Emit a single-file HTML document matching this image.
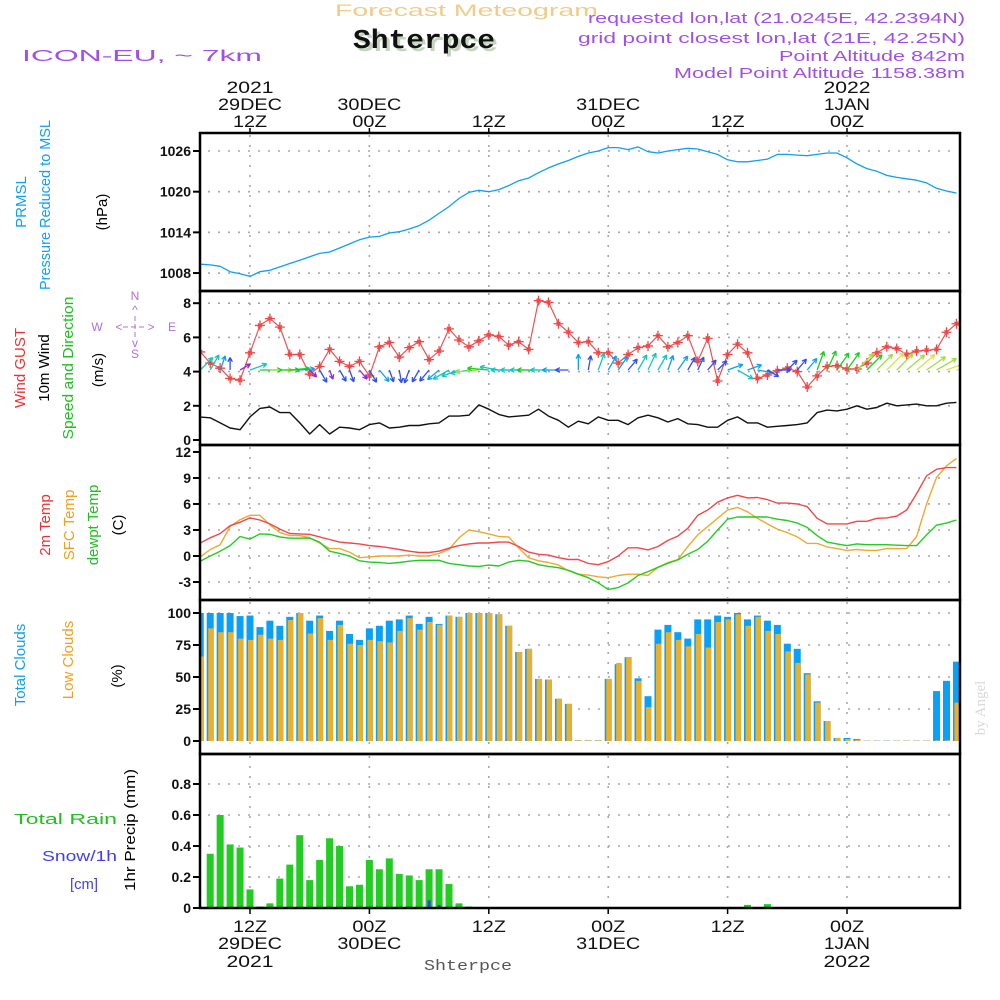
<!DOCTYPE html>
<html><head><meta charset="utf-8"><style>
html,body{margin:0;padding:0;background:#fff;}
svg{display:block;}
text{font-family:"Liberation Sans",sans-serif;}
</style></head><body>
<svg id="chart" xmlns="http://www.w3.org/2000/svg" width="1000" height="1000" viewBox="0 0 1000 1000">
<rect x="0" y="0" width="1000" height="1000" fill="#fff"/>
<g>
<text x="335" y="16" font-size="17" fill="#f0cc88" textLength="263" lengthAdjust="spacingAndGlyphs">Forecast Meteogram</text>
<text x="356" y="51" font-weight="bold" font-size="27" fill="#c5d5bd" textLength="142" lengthAdjust="spacingAndGlyphs" style="font-family:'Liberation Mono',monospace">Shterpce</text>
<text x="353" y="48" font-weight="bold" font-size="27" fill="#111" textLength="142" lengthAdjust="spacingAndGlyphs" style="font-family:'Liberation Mono',monospace">Shterpce</text>
<text x="22" y="61" font-size="16" fill="#a050e8" textLength="240" lengthAdjust="spacingAndGlyphs">ICON-EU, ~ 7km</text>
<text x="588" y="23" font-size="15" fill="#a050e8" textLength="377" lengthAdjust="spacingAndGlyphs">requested lon,lat (21.0245E, 42.2394N)</text>
<text x="578" y="43" font-size="15" fill="#a050e8" textLength="387" lengthAdjust="spacingAndGlyphs">grid point closest lon,lat (21E, 42.25N)</text>
<text x="779" y="61" font-size="15" fill="#a050e8" textLength="186" lengthAdjust="spacingAndGlyphs">Point Altitude 842m</text>
<text x="674" y="78" font-size="15" fill="#a050e8" textLength="291" lengthAdjust="spacingAndGlyphs">Model Point Altitude 1158.38m</text>
</g>
<g font-size="15">
<text transform="translate(26,202) rotate(-90)" text-anchor="middle" fill="#10a0f0">PRMSL</text>
<text transform="translate(50,205) rotate(-90)" text-anchor="middle" fill="#10a0f0" textLength="170" lengthAdjust="spacingAndGlyphs">Pressure Reduced to MSL</text>
<text transform="translate(107,212) rotate(-90)" text-anchor="middle" fill="#000">(hPa)</text>
<text transform="translate(25,368) rotate(-90)" text-anchor="middle" fill="#f03030">Wind GUST</text>
<text transform="translate(49,368) rotate(-90)" text-anchor="middle" fill="#000">10m Wind</text>
<text transform="translate(73,368) rotate(-90)" text-anchor="middle" fill="#20c020" textLength="143" lengthAdjust="spacingAndGlyphs">Speed and Direction</text>
<text transform="translate(103,370) rotate(-90)" text-anchor="middle" fill="#000">(m/s)</text>
<text transform="translate(50,525) rotate(-90)" text-anchor="middle" fill="#f03030">2m Temp</text>
<text transform="translate(74,525) rotate(-90)" text-anchor="middle" fill="#f0a020">SFC Temp</text>
<text transform="translate(98,525) rotate(-90)" text-anchor="middle" fill="#20c020">dewpt Temp</text>
<text transform="translate(123,525) rotate(-90)" text-anchor="middle" fill="#000">(C)</text>
<text transform="translate(25,665) rotate(-90)" text-anchor="middle" fill="#10a0f0">Total Clouds</text>
<text transform="translate(73,660) rotate(-90)" text-anchor="middle" fill="#f0a020">Low Clouds</text>
<text transform="translate(122,676) rotate(-90)" text-anchor="middle" fill="#000">(%)</text>
<text transform="translate(135,830) rotate(-90)" text-anchor="middle" fill="#000" textLength="122" lengthAdjust="spacingAndGlyphs">1hr Precip (mm)</text>
<text x="14" y="824" fill="#20c020" textLength="103" lengthAdjust="spacingAndGlyphs">Total  Rain</text>
<text x="42" y="861" fill="#4040f0" textLength="75" lengthAdjust="spacingAndGlyphs">Snow/1h</text>
<text x="70" y="889" fill="#4040f0" textLength="28" lengthAdjust="spacingAndGlyphs">[cm]</text>
</g>
<g fill="#b070e0" font-size="12" text-anchor="middle">
<text x="135" y="300">N</text>
<text x="135" y="314">^</text>
<line x1="135" y1="316" x2="135" y2="340" stroke="#b070e0" stroke-dasharray="5,3"/>
<text x="97" y="331">W</text>
<text x="172" y="331">E</text>
<text x="119" y="331">&lt;</text>
<text x="151" y="331">&gt;</text>
<line x1="123" y1="327" x2="147" y2="327" stroke="#b070e0" stroke-dasharray="5,3"/>
<text x="135" y="347">v</text>
<text x="135" y="358">S</text>
</g>
<text transform="translate(985,708) rotate(-90)" text-anchor="middle" font-size="15" fill="#d8d8d8" style="font-family:'Liberation Serif',serif">by Angel</text>
<g id="plot"></g>
</svg>
<script>
// ---- data (hourly, first point = 07Z 29DEC) ----
const hourStart = 7;
const pressure = [1009.3,1009.2,1009.0,1008.2,1007.9,1007.5,1008.2,1008.4,1008.9,1009.4,1009.9,1010.4,1010.9,1011.1,1011.7,1012.3,1012.9,1013.3,1013.4,1013.9,1014.1,1014.5,1015.0,1015.8,1016.8,1017.8,1019.0,1019.9,1020.2,1020.0,1020.3,1020.9,1021.6,1022.0,1022.8,1023.5,1024.1,1024.6,1025.2,1025.7,1026.0,1026.5,1026.5,1026.2,1026.6,1025.9,1025.7,1026.0,1026.2,1026.4,1026.3,1025.9,1025.5,1024.7,1024.4,1024.4,1024.6,1024.8,1025.5,1025.5,1025.4,1025.3,1025.5,1025.7,1025.7,1025.0,1024.1,1023.4,1023.0,1022.4,1022.1,1021.9,1021.7,1021.3,1020.5,1020.1,1019.8];
const windSpeed = [1.34,1.3,1.0,0.7,0.6,1.35,1.85,1.93,1.6,1.6,1.0,0.35,0.9,0.35,0.75,0.7,0.6,0.9,1.0,0.7,0.75,0.85,0.85,0.95,1.0,1.4,1.4,1.45,2.05,1.8,1.5,1.35,1.4,1.45,1.8,1.4,1.15,0.75,1.1,0.95,1.35,1.15,1.15,0.9,1.3,1.45,1.3,1.05,1.25,0.95,0.9,0.75,0.75,1.15,1.35,1.0,1.0,0.75,0.8,0.85,0.9,1.0,1.6,1.75,1.7,1.8,2.0,1.8,1.9,2.15,2.0,2.05,2.1,2.0,2.0,2.15,2.2];
const windDir = [45,30,20,0,60,70,90,90,90,85,85,135,150,160,150,160,140,150,140,160,170,200,210,220,230,240,250,260,265,275,280,270,270,270,270,270,270,270,0,10,20,30,35,40,30,25,30,20,35,30,25,40,45,70,120,70,100,120,90,45,40,40,20,25,35,35,45,45,45,45,45,50,50,55,60,70,80];
const gust = [5.15,4.5,4.2,3.6,3.5,5.1,6.7,7.1,6.6,5.0,5.0,3.85,4.3,5.3,4.6,4.3,4.6,3.75,5.45,5.7,4.85,5.4,5.75,4.7,5.2,6.5,5.85,5.45,5.8,6.15,6.05,5.55,5.75,5.3,8.15,8.05,6.8,6.3,5.7,5.75,5.1,5.1,4.5,5.0,5.4,5.5,6.1,5.45,5.7,6.1,4.6,5.95,3.45,5.0,5.6,5.1,3.6,3.8,4.05,4.2,4.0,3.1,3.75,4.3,4.35,4.15,4.15,4.5,5.1,5.45,5.35,5.0,5.2,5.25,5.3,6.3,6.8];
const temp2m = [1.5,2.1,2.6,3.5,3.9,4.4,4.15,3.7,3.1,2.6,2.55,2.5,2.2,1.9,1.6,1.5,1.4,1.2,1.1,0.95,0.75,0.55,0.4,0.4,0.55,0.9,1.2,1.4,1.5,1.5,1.6,1.6,1.1,0.45,0.2,0.1,-0.2,-0.4,-0.4,-0.85,-1.0,-0.65,0,0.95,0.95,0.7,1.1,1.8,2.3,3.2,4.7,5.3,6.2,6.7,7.0,6.7,6.75,6.5,6.1,6.1,6.0,5.7,4.35,3.7,3.7,3.7,4.0,4.0,4.35,4.4,4.6,5.3,7.2,9.25,10.0,10.2,10.2];
const tempSfc = [-0.1,0.75,1.3,3.4,4.2,4.7,4.7,3.6,2.7,2.35,2.35,2.1,1.5,0.85,0.85,0.45,-0.2,-0.1,0,0,0,0.1,0,0,0.3,0.75,2.1,3.0,2.8,2.55,2.25,2.2,0.95,-0.2,-0.55,-0.75,-1.05,-1.7,-2.1,-2.2,-2.4,-2.5,-2.25,-2.1,-2.1,-2.25,-1.3,-0.75,-0.4,1.1,2.45,3.4,4.35,5.3,5.6,5.1,4.35,3.7,3.1,2.7,2.2,1.45,1.45,1.05,0.85,0.65,0.75,0.65,0.65,0.85,0.85,0.85,2.25,6.0,9.05,10.4,11.25];
const dewpt = [-0.6,0,0.55,1.2,2.25,1.95,2.55,2.5,2.2,2.05,2.05,2.05,1.6,0.55,0.3,0,-0.55,-0.7,-0.75,-0.85,-0.75,-0.6,-0.5,-0.5,-0.5,-0.85,-1.0,-1.15,-1.2,-1.05,-1.15,-0.7,-0.5,-0.6,-1.0,-1.2,-1.35,-1.65,-2.1,-2.5,-3.1,-3.85,-3.65,-3.1,-2.25,-1.8,-1.3,-0.85,-0.45,0.2,0.75,1.7,3.0,4.25,4.5,4.5,4.5,4.5,4.25,4.1,3.8,3.3,2.35,1.6,1.4,1.2,1.4,1.3,1.3,1.3,1.25,1.2,1.2,2.45,3.55,3.8,4.15];
const totalClouds = [100,100,100,100,97.6,98,89,94,90,97,100,94,98,86,94,83.6,79,88,90,94,95,98,91.5,97,91.5,98,97,100,100,100,99,90,69.5,72,48.5,48,33,29,0.5,0.5,0.5,48.5,60,65.5,49,35,87,90.7,85,80,95,95,98,97,100,95,98,94,90.7,76,72,53,31,15.6,2.4,2.4,1.6,0.3,0.3,0.3,0.3,0.3,0.3,0.3,39,47,62];
const lowClouds = [66,88,85,85,80,79,83,80,79,94.5,100,84,96,79,90.7,76,75,79,78,77,86,96,87,93,90.7,98,97,100,100,100,99,90,69.5,72,48.5,48,33,29,0.5,0.5,0.5,48.5,61,65.5,47,26.5,76,85,79,74,83.6,73,93,95,99,90,97,86,83.6,70,61,52,30,15.6,2.4,1.5,1,0.3,0.3,0.3,0.3,0.3,0.3,0.3,0.5,0.5,30];
const rainHours = [8,9,10,11,12,13,14,15,16,17,18,19,20,21,22,23,24,25,26,27,28,29,30,31,32,33,34,36,55,62,64];
const rain = [0.35,0.60,0.41,0.39,0.12,0.01,0.03,0.19,0.28,0.47,0.18,0.31,0.45,0.40,0.14,0.15,0.31,0.25,0.32,0.22,0.21,0.18,0.25,0.25,0.155,0.03,0.01,0.005,0.005,0.02,0.025];
const snowHours = [27,28,30,31,32];
const snow = [0.003,0.003,0.05,0.02,0.005];
const pressTicks = [1008,1014,1020,1026];
const windTicks = [0,2,4,6,8];
const tempTicks = [-3,0,3,6,9,12];
const cloudTicks = [0,25,50,75,100];
const rainTicks = [0,0.2,0.4,0.6,0.8];
const rainTickLabels = ["0","0.2","0.4","0.6","0.8"];
const timeHours = [12,24,36,48,60,72];
const timeLabels = ["12Z","00Z","12Z","00Z","12Z","00Z"];
const dateLabels = ["29DEC","30DEC","","31DEC","","1JAN"];
const yearLabels = ["2021","","","","","2022"];

// ---- axes ----
const X0 = 200, X1 = 960;
const xH = h => 250 + (h - 12) * 9.95;
const yP = v => 151 + (1026 - v) * 6.78;
const yW = v => 440 - v * 17.1;
const yT = v => 556 - v * 8.67;
const yC = v => 741 - v * 1.28;
const yR = v => 908 - v * 155;
const panels = [[133,291],[291,445],[445,600],[600,754],[754,908]];

const NS = "http://www.w3.org/2000/svg";
const plot = document.getElementById('plot');
function mk(tag, attrs, parent) {
  const e = document.createElementNS(NS, tag);
  for (const k in attrs) e.setAttribute(k, attrs[k]);
  (parent || plot).appendChild(e);
  return e;
}
const defs = mk('defs', {});
const cp = mk('clipPath', {id: 'clipArea'}, defs);
mk('rect', {x: X0, y: 133, width: X1 - X0, height: 775}, cp);

const grid = mk('g', {stroke: '#a8a8a8', 'stroke-width': 1.6, 'stroke-dasharray': '2,8'});


timeHours.forEach(h => {
  panels.forEach(p => {
    const l = mk('line', {x1: xH(h), x2: xH(h), y1: p[0] + 2, y2: p[1] - 2}, grid);
    
    
  });
});
function hgrid(ticks, f, name) {
  ticks.forEach(t => {
    const l = mk('line', {x1: X0 + 8, x2: X1 - 2, y1: f(t), y2: f(t)}, grid);
    
    
  });
}
hgrid(pressTicks, yP, 'pressure-grid-line');
hgrid(windTicks.slice(1), yW, 'wind-grid-line');
hgrid(tempTicks.slice(0, 5), yT, 'temp-grid-line');
hgrid(cloudTicks.slice(1), yC, 'cloud-grid-line');
hgrid(rainTicks.slice(1), yR, 'precip-grid-line');

function yTicks(ticks, labels, f, name) {
  const g = mk('g', {});
  
  
  ticks.forEach((t, i) => {
    mk('line', {x1: 193, x2: X0, y1: f(t), y2: f(t), stroke: '#000', 'stroke-width': 2}, g);
    const tx = mk('text', {x: 191, y: f(t) + 5, 'text-anchor': 'end', 'font-size': 14, 'font-weight': 'bold', fill: '#111'}, g);
    tx.textContent = labels[i];
  });
}
yTicks(pressTicks, pressTicks.map(String), yP, 'pressure-y-axis');
yTicks(windTicks, windTicks.map(String), yW, 'wind-y-axis');
yTicks(tempTicks, tempTicks.map(String), yT, 'temp-y-axis');
yTicks(cloudTicks, cloudTicks.map(String), yC, 'cloud-y-axis');
yTicks(rainTicks, rainTickLabels, yR, 'precip-y-axis');

const gc = mk('g', {'clip-path': 'url(#clipArea)'});


totalClouds.forEach((v, i) => {
  const h = hourStart + i, x = xH(h);
  const b = mk('rect', {x: x - 3.5, y: yC(v), width: 7, height: yC(0) - yC(v), fill: '#0aa0f5'}, gc);
  
  
  const lv = lowClouds[i];
  const o = mk('rect', {x: x - 2, y: yC(lv), width: 5.5, height: yC(0) - yC(lv), fill: '#e8b030'}, gc);
  
  
});

const gr = mk('g', {'clip-path': 'url(#clipArea)'});


rain.forEach((v, i) => {
  const x = xH(rainHours[i]);
  const b = mk('rect', {x: x - 3.5, y: yR(v), width: 7, height: Math.max(1, yR(0) - yR(v)), fill: '#22cc22'}, gr);
  
  
});
snow.forEach((v, i) => {
  const x = xH(snowHours[i]);
  const b = mk('rect', {x: x - 1.5, y: yR(v), width: 3, height: Math.max(1, yR(0) - yR(v)), fill: '#3040f0'}, gr);
  
  
});

function line(data, fy, color, w, name) {
  const pts = data.map((v, i) => xH(hourStart + i).toFixed(1) + ',' + fy(v).toFixed(1)).join(' ');
  const p = mk('polyline', {points: pts, fill: 'none', stroke: color, 'stroke-width': w, 'stroke-linejoin': 'round', 'clip-path': 'url(#clipArea)'});
  
  
}
line(pressure, yP, '#10a0f0', 1.3, 'pressure-line');
line(windSpeed, yW, '#111', 1.4, 'wind-speed-line');
line(tempSfc, yT, '#eeaa30', 1.4, 'sfc-temp-line');
line(dewpt, yT, '#22cc22', 1.4, 'dewpt-line');
line(temp2m, yT, '#f04848', 1.4, '2m-temp-line');
line(gust, yW, '#f05050', 1.2, 'gust-line');

const gs = mk('g', {stroke: '#f04848', 'stroke-width': 1.3, 'clip-path': 'url(#clipArea)'});


gust.forEach((v, i) => {
  const x = xH(hourStart + i), y = yW(v);
  const m = mk('path', {d: `M${x-5},${y}H${x+5}M${x},${y-5}V${y+5}M${x-2},${y-2}L${x+2},${y+2}M${x-2},${y+2}L${x+2},${y-2}`}, gs);
  
  
});

function windColor(s) {
  if (s < 0.7) return '#8a2be2';
  if (s < 1.0) return '#3050f0';
  if (s < 1.3) return '#10a0f0';
  if (s < 1.6) return '#10c8c0';
  if (s < 1.9) return '#20cc20';
  if (s < 2.1) return '#a0e040';
  return '#e0e040';
}
const ga = mk('g', {'stroke-width': 1.3, fill: 'none', 'clip-path': 'url(#clipArea)'});


windDir.forEach((d, i) => {
  const s = windSpeed[i];
  const x = xH(hourStart + i), y = 370;
  const L = 7 + 8 * s;
  const a = d * Math.PI / 180;
  const dx = Math.sin(a), dy = -Math.cos(a);
  const hx = x + dx * L, hy = y + dy * L;
  const b1 = a + Math.PI * 0.85, b2 = a - Math.PI * 0.85;
  const ah = 5;
  const p = mk('path', {stroke: windColor(s), d: `M${x},${y}L${hx},${hy}M${hx},${hy}L${hx + Math.sin(b1)*ah},${hy - Math.cos(b1)*ah}M${hx},${hy}L${hx + Math.sin(b2)*ah},${hy - Math.cos(b2)*ah}`}, ga);
  
  
});

const fr = mk('g', {stroke: '#000', 'stroke-width': 2.5, fill: 'none'});


panels.forEach(p => {
  mk('rect', {x: X0, y: p[0], width: X1 - X0, height: p[1] - p[0]}, fr);
});

const tl = mk('g', {'font-size': 17, fill: '#111', 'text-anchor': 'middle'});


timeHours.forEach((h, i) => {
  const x = xH(h);
  mk('line', {x1: x, x2: x, y1: 128, y2: 133, stroke: '#000', 'stroke-width': 1.5}, tl);
  mk('line', {x1: x, x2: x, y1: 908, y2: 914, stroke: '#000', 'stroke-width': 1.5}, tl);
  const rows = [[timeLabels[i], 127, 932, 34], [dateLabels[i], 110, 949, dateLabels[i] === '1JAN' ? 46 : 64], [yearLabels[i], 93, 967, 47]];
  rows.forEach(r => {
    if (!r[0]) return;
    [r[1], r[2]].forEach(yy => {
      const t = mk('text', {x: x, y: yy, textLength: r[3], lengthAdjust: 'spacingAndGlyphs'}, tl);
      t.textContent = r[0];
    });
  });
});
const bt = mk('text', {x: 468, y: 970, 'text-anchor': 'middle', 'font-size': 15, fill: '#555', textLength: 88, lengthAdjust: 'spacingAndGlyphs', style: "font-family:'Liberation Mono',monospace"});
bt.textContent = 'Shterpce';


</script>
</body></html>
